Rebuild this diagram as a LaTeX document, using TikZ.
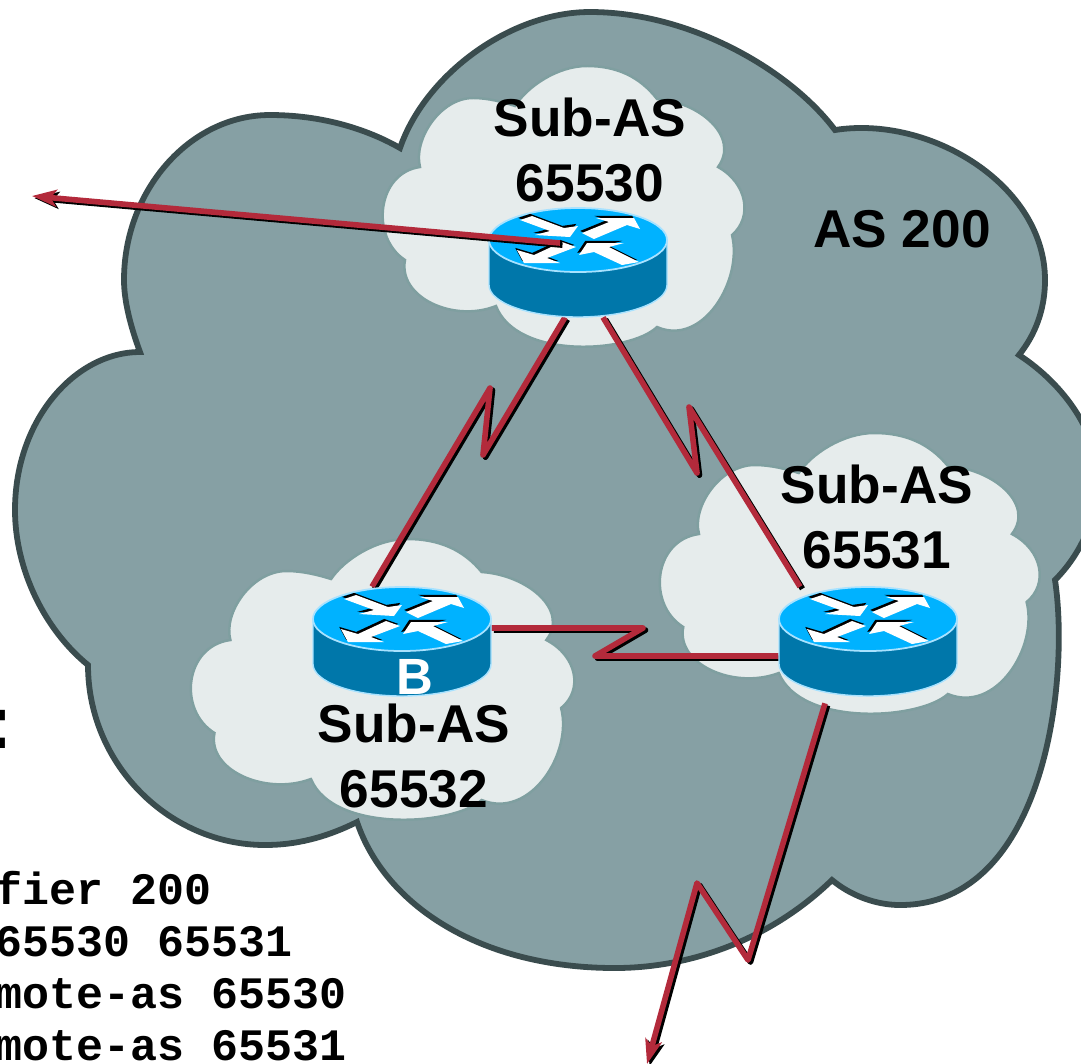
\documentclass[tikz,border=0pt]{standalone}
\usepackage{fontspec}
\setmainfont{Liberation Sans}
\setmonofont{Liberation Mono}
\usetikzlibrary{positioning,arrows.meta}
\definecolor{cloudfill}{HTML}{86A0A4}
\definecolor{cloudline}{HTML}{3A4C4E}
\definecolor{subfill}{HTML}{E6ECEC}
\definecolor{subline}{HTML}{7F9FA0}
\definecolor{routertop}{HTML}{00B2FF}
\definecolor{routerside}{HTML}{0077AA}
\definecolor{routerrim}{HTML}{A8E2FF}
\definecolor{linkcol}{HTML}{B32A3B}
\tikzset{
  main label/.style={font=\fontsize{30.3}{37}\selectfont\bfseries,align=center,inner sep=0pt},
  conf label/.style={font=\fontsize{25.6}{30}\selectfont\ttfamily\bfseries,anchor=base west,inner sep=0pt},
  router box/.style={minimum width=3.56cm,minimum height=2.16cm,inner sep=0pt},
  link shadow/.style={draw=black,line width=3.2pt,line join=round,transform canvas={xshift=1.4pt,yshift=-1.2pt}},
  link red/.style={draw=linkcol,line width=3.2pt,line join=round},
  tip/.style={-{Stealth[length=14pt,width=9.6pt,inset=3.4pt]}},
  subcloud/.pic={
    \path[fill=subfill,draw=subline,line width=1.4pt,line join=miter]
      (40,99) .. controls (33,72) and (60,30) .. (93,30)
      .. controls (108,30) and (123,34) .. (135,38)
      .. controls (147,19) and (177,-2) .. (207,-2)
      .. controls (237,-2) and (260,9) .. (277,31)
      .. controls (320,34) and (360,69) .. (338,99)
      .. controls (367,115) and (373,149) .. (352,167)
      .. controls (363,212) and (323,279) .. (277,259)
      .. controls (250,285) and (137,292) .. (116,238)
      .. controls (73,255) and (18,229) .. (25,192)
      .. controls (-10,169) and (-3,105) .. (40,99)
      -- cycle;
  },
  arrowshape/.pic={
    \path[pic actions]
      (-58,-20) -- (-46,-24) -- (-14,-12) -- (0,-14) -- (-8,-3) -- (-43,-5) -- (-28,-9) -- cycle
      (4,-7) -- (31,-18) -- (18,-22) -- (56,-22) -- (62,-11) -- (49,-15) -- (16,-1) -- cycle
      (-2,7) -- (-16,2) -- (-44,15) -- (-61,10) -- (-54,23) -- (-18,23) -- (-31,18) -- cycle
      (1,15) -- (9,3) -- (46,3) -- (31,7) -- (61,22) -- (44,25) -- (16,12) -- cycle;
  },
  router/.pic={
    \path[fill=routerside,draw=routerrim,line width=.8pt] (-89,0) -- (-89,45) arc[start angle=180,end angle=0,x radius=89,y radius=32] -- (89,0) -- cycle;
    \path[fill=routertop,draw=routerrim,line width=1pt] (0,0) ellipse[x radius=89,y radius=32];
    \pic[fill=black,xshift=-1pt,yshift=1.2pt] {arrowshape};
    \pic[fill=white] {arrowshape};
  },
}
\newcommand{\serlink}[2][]{\draw[link shadow,#1] #2; \draw[link red,#1] #2;}

\begin{document}
\begin{tikzpicture}[x=.02cm,y=-.02cm]
  \useasboundingbox (0,0) rectangle (1081,1063);

  % AS 200
  \path[fill=cloudfill,draw=cloudline,line width=3.3pt,line join=miter]
    (400,148) .. controls (425,75) and (510,12) .. (590,12)
    .. controls (690,12) and (790,70) .. (835,130)
    .. controls (930,115) and (1045,185) .. (1045,280)
    .. controls (1045,310) and (1035,335) .. (1019,355)
    .. controls (1065,385) and (1100,435) .. (1098,485)
    .. controls (1096,520) and (1080,555) .. (1055,580)
    .. controls (1070,680) and (1045,905) .. (900,905)
    .. controls (875,905) and (850,895) .. (832,880)
    .. controls (770,940) and (690,968) .. (615,968)
    .. controls (480,968) and (385,905) .. (357,822)
    .. controls (325,838) and (295,845) .. (265,845)
    .. controls (170,845) and (88,765) .. (88,665)
    .. controls (45,630) and (15,570) .. (15,510)
    .. controls (15,420) and (75,352) .. (140,352)
    .. controls (130,325) and (124,300) .. (124,280)
    .. controls (124,190) and (190,115) .. (270,115)
    .. controls (320,115) and (365,128) .. (400,148)
    -- cycle;

  \pic at (380,68) {subcloud};
  \pic[xscale=1.05] at (657,435) {subcloud};
  \pic[xscale=1.06] at (188,541) {subcloud};

  \node[main label] (as) at (902,229) {AS 200};
  \node[main label] (s1) at (590,150) {Sub-AS\\65530};
  \node[main label] (s2) at (877,517) {Sub-AS\\65531};
  \node[main label] (s3) at (414,756) {Sub-AS\\65532};

  \node[router box] (r1) at (578,263) {};
  \node[router box] (r2) at (868,641) {};
  \node[router box] (r3) at (402,641) {};
  \coordinate (wend) at (32,196);
  \coordinate (send) at (647,1064);

  % links
  \serlink{([xshift=-.26cm]r1.south) -- (483,455) -- (490,388) -- ([xshift=-.6cm]r3.north)}
  \serlink{([xshift=.5cm]r1.south) -- (697,473) -- (689,407) -- ([xshift=-1.36cm]r2.north)}
  \serlink{([yshift=.26cm]r3.east) -- (643,628) -- (595,656) -- ([yshift=-.3cm]r2.west)}

  \pic at (578,240) {router};
  \pic at (868,619) {router};
  \pic at (402,619) {router};
  \node[font=\fontsize{29}{29}\selectfont\bfseries,text=white,inner sep=0pt] (b) at (415,677) {B};

  \serlink[tip]{([xshift=-.36cm,yshift=.4cm]r1.center) -- (wend)}
  \serlink[tip]{([xshift=-.86cm,yshift=-.16cm]r2.south) -- (748,960) -- (697,883) -- (send)}

  \node[font=\fontsize{43}{43}\selectfont\bfseries,inner sep=0pt,anchor=base west] (colon) at (-13,748) {:};
  \node[conf label] (c1) at (-5,904) {fier 200};
  \node[conf label] (c2) at (-5,956) {65530 65531};
  \node[conf label] (c3) at (-5,1008) {mote-as 65530};
  \node[conf label] (c4) at (-5,1060) {mote-as 65531};
\end{tikzpicture}
\end{document}
